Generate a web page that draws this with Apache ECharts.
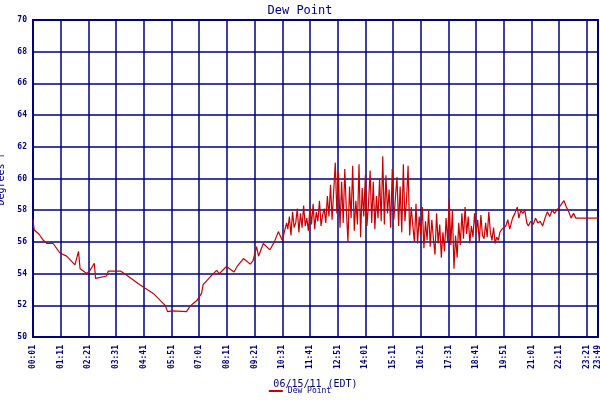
<!DOCTYPE html>
<html>
<head>
<meta charset="utf-8">
<script src="https://cdn.jsdelivr.net/npm/echarts@6/dist/echarts.min.js"></script>
<style>html,body{margin:0;padding:0;background:#fff}</style>
</head>
<body>
<div id="chart" style="width:600px;height:400px"></div>
<script>
// minutes since 00:01 and dew point (F)
var calmMinutes = [0,3,15,26,35,51,68,85,106,115,119,136,144,155,158,186,190,222,237,270,304,334,340,345,353,388,397,414,426,430,452,464,471,489,508,516,532,549,556,565,570,582,599,610,620,630,641];
var calmValues  = [57.4,56.75,56.5,56.1,55.9,55.9,55.3,55.1,54.55,55.4,54.3,54.0,54.2,54.65,53.7,53.85,54.15,54.15,53.9,53.3,52.75,52.0,51.6,51.5,51.65,51.6,51.95,52.3,52.75,53.3,53.9,54.2,54.0,54.45,54.1,54.45,54.95,54.6,54.8,55.7,55.1,55.9,55.5,56.0,56.65,56.1,57.2];
var noisyStart = 644, noisyStep = 4;
var noisyValues = [
  56.8,57.6,56.4,57.9,56.9,57.2,58.1,56.6,57.8,56.9,58.3,57.0,57.5,56.7,58.2,
  57.1,58.4,56.8,57.9,57.3,58.6,57.0,57.7,58.1,57.2,58.9,57.6,59.6,57.4,59.2,
  61.0,57.8,60.4,56.9,59.8,57.2,60.6,58.0,56.0,59.5,57.5,60.8,56.7,58.6,57.1,
  60.9,56.3,59.4,57.6,60.2,57.0,58.4,60.5,57.2,59.8,56.8,58.9,57.5,60.0,57.3,
  61.4,57.1,60.2,57.8,59.3,56.9,60.6,57.4,58.8,60.1,57.0,59.5,56.6,60.9,57.3,
  58.6,60.8,56.4,58.2,57.0,56.0,58.4,55.9,57.6,56.5,58.2,55.6,57.3,56.1,58.0,
  55.7,57.4,56.2,55.2,57.8,55.9,57.1,55.0,56.6,55.4,57.5,56.0,58.7,55.8,58.0,
  54.3,56.4,55.0,57.2,55.8,57.8,56.2,58.2,56.5,57.6,55.9,57.0,56.3,57.8,56.6,
  57.4,56.0,57.7,56.4,56.2,57.2,56.3,57.9,56.6,56.1,56.9,55.9,56.3,56.1,56.6
];
var lateMinutes = [1185,1195,1200,1205,1212,1218,1224,1228,1233,1238,1243,1248,1252,1258,1264,1270,1276,1282,1288,1294,1300,1306,1312,1318,1324,1330,1336,1342,1348,1354,1360,1366,1372,1380,1400,1428];
var lateValues  = [56.8,57.0,57.4,56.8,57.5,57.8,58.2,57.5,58.0,57.8,58.0,57.2,57.0,57.3,57.1,57.5,57.2,57.3,57.0,57.5,57.9,57.6,58.0,57.8,58.0,58.2,58.4,58.6,58.2,57.9,57.5,57.8,57.5,57.5,57.5,57.5];

var data = [];
for (var i = 0; i < calmMinutes.length; i++) data.push([calmMinutes[i], calmValues[i]]);
for (var j = 0; j < noisyValues.length; j++) data.push([noisyStart + j * noisyStep, noisyValues[j]]);
for (var k = 0; k < lateMinutes.length; k++) data.push([lateMinutes[k], lateValues[k]]);

var navy = '#000080';
var font = 'DejaVu Sans Mono';
function hhmm(v) {
  var t = v + 1;
  var h = Math.floor(t / 60), m = t % 60;
  return (h < 10 ? '0' : '') + h + ':' + (m < 10 ? '0' : '') + m;
}

var myChart = echarts.init(document.getElementById('chart'));
myChart.setOption({
  animation: false,
  title: {
    text: 'Dew Point', left: 'center', top: 0,
    textStyle: {color: navy, fontFamily: font, fontSize: 12, fontWeight: 'normal'}
  },
  legend: {
    bottom: 0, left: 'center', itemWidth: 14, itemHeight: 2, icon: 'rect',
    textStyle: {color: navy, fontFamily: font, fontSize: 8},
    data: ['Dew Point']
  },
  grid: {
    left: 33, right: 2, top: 20, bottom: 63,
    containLabel: false, outerBoundsMode: 'none',
    show: true, borderColor: navy, borderWidth: 2
  },
  xAxis: {
    type: 'value', min: 0, max: 1428, interval: 70,
    name: '06/15/11 (EDT)', nameLocation: 'middle', nameGap: 42,
    nameTextStyle: {color: navy, fontFamily: font, fontSize: 10},
    axisLine: {lineStyle: {color: navy}},
    axisTick: {show: false},
    axisLabel: {
      rotate: 90, color: navy, fontFamily: font, fontSize: 8, fontWeight: 'bold',
      showMaxLabel: true, hideOverlap: false, formatter: hhmm
    },
    splitLine: {lineStyle: {color: navy, width: 1.5}}
  },
  yAxis: {
    type: 'value', min: 50, max: 70, interval: 2,
    name: 'Degrees F', nameLocation: 'middle', nameGap: 24,
    nameTextStyle: {color: navy, fontFamily: font, fontSize: 10},
    axisLine: {show: true, lineStyle: {color: navy, width: 2}},
    axisTick: {show: false},
    axisLabel: {color: navy, fontFamily: font, fontSize: 8, fontWeight: 'bold', margin: 6},
    splitLine: {lineStyle: {color: navy, width: 1.5}}
  },
  series: [{
    name: 'Dew Point', type: 'line', data: data, showSymbol: false,
    lineStyle: {color: '#cc0000', width: 1.2}, itemStyle: {color: '#cc0000'}
  }]
});
</script>
</body>
</html>
